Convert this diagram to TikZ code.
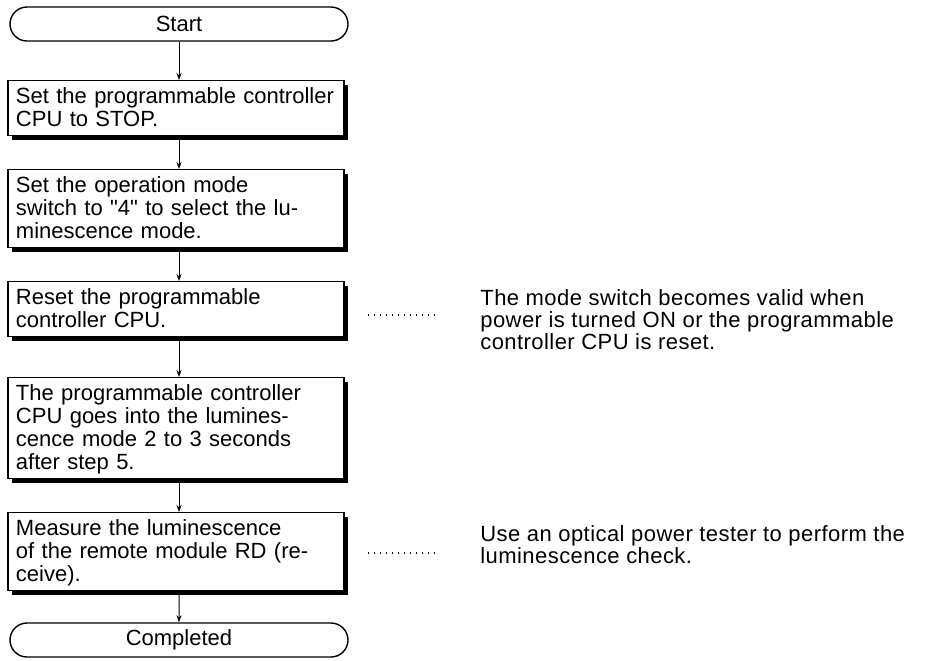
\documentclass[tikz,border=0pt]{standalone}
\usepackage{fontspec}
\setmainfont{Liberation Sans}
\newfontfamily\noteFont[LetterSpace=2]{Liberation Sans}
\usetikzlibrary{shapes.misc, shadows, arrows.meta}

\begin{document}
\begin{tikzpicture}[x=0.5pt, y=-0.5pt,
    stepBox/.style={anchor=north, draw=borderColour, fill=white, line width=0.7pt, text width=160pt,
        inner xsep=4pt, inner ysep=2pt, align=left, font=\fontsize{11}{11.5}\selectfont,
        execute at begin node=\rule{0pt}{9.5pt}, execute at end node=\rule[-2.5pt]{0pt}{2.5pt},
        drop shadow={shadow xshift=2pt, shadow yshift=-2pt, opacity=1, fill=borderColour}},
    endBox/.style={rounded rectangle, draw=borderColour, line width=0.7pt, minimum width=169pt,
        minimum height=17pt, inner sep=0pt, font=\fontsize{11}{11.5}\selectfont},
    noteText/.style={anchor=north west, inner sep=0pt, align=left,
        font=\noteFont\fontsize{11}{11}\selectfont},
    flow/.style={line width=0.5pt, -{Stealth[length=3.5pt, width=2.5pt]}},
    leader/.style={line width=0.7pt, dash pattern=on 0.7pt off 2.3pt}]

    \definecolor{borderColour}{HTML}{000000}

    % Fix the page size
    \useasboundingbox (0,0) rectangle (936,660);

    % Draw the flow steps
    \node[endBox] (start) at (179,24) {Start};
    \node[stepBox] (stop) at (176,80) {Set the programmable controller\\CPU to STOP.};
    \node[stepBox] (mode) at (176,169) {Set the operation mode\\switch to \textquotedbl4\textquotedbl{} to select the lu-\\minescence mode.};
    \node[stepBox] (reset) at (176,281) {Reset the programmable\\controller CPU.};
    \node[stepBox] (lumMode) at (176,377) {The programmable controller\\CPU goes into the lumines-\\cence mode 2 to 3 seconds\\after step 5.};
    \node[stepBox] (measure) at (176,512) {Measure the luminescence\\of the remote module RD (re-\\ceive).};
    \node[endBox] (done) at (179,640) {Completed};

    % Draw the arrows
    \draw[flow] (start) -- (start |- stop.north);
    \foreach \a/\b in {stop/mode, mode/reset, reset/lumMode, lumMode/measure}
        \draw[flow] (\a.south -| start) -- (\b.north -| start);
    \draw[flow] (measure.south -| start) -- (done);

    % Notes on the right
    \node[noteText] (resetNote) at (480,289) {The mode switch becomes valid when\\power is turned ON or the programmable\\controller CPU is reset.};
    \node[noteText] (testerNote) at (480,525) {Use an optical power tester to perform the\\luminescence check.};

    % Dotted leaders
    \draw[leader] ([xshift=11.5pt, yshift=-13pt]reset.east |- resetNote.north west) -- ([xshift=-21.5pt, yshift=-13pt]resetNote.north west);
    \draw[leader] ([xshift=11.5pt, yshift=-14pt]measure.east |- testerNote.north west) -- ([xshift=-21.5pt, yshift=-14pt]testerNote.north west);

\end{tikzpicture}
\end{document}
